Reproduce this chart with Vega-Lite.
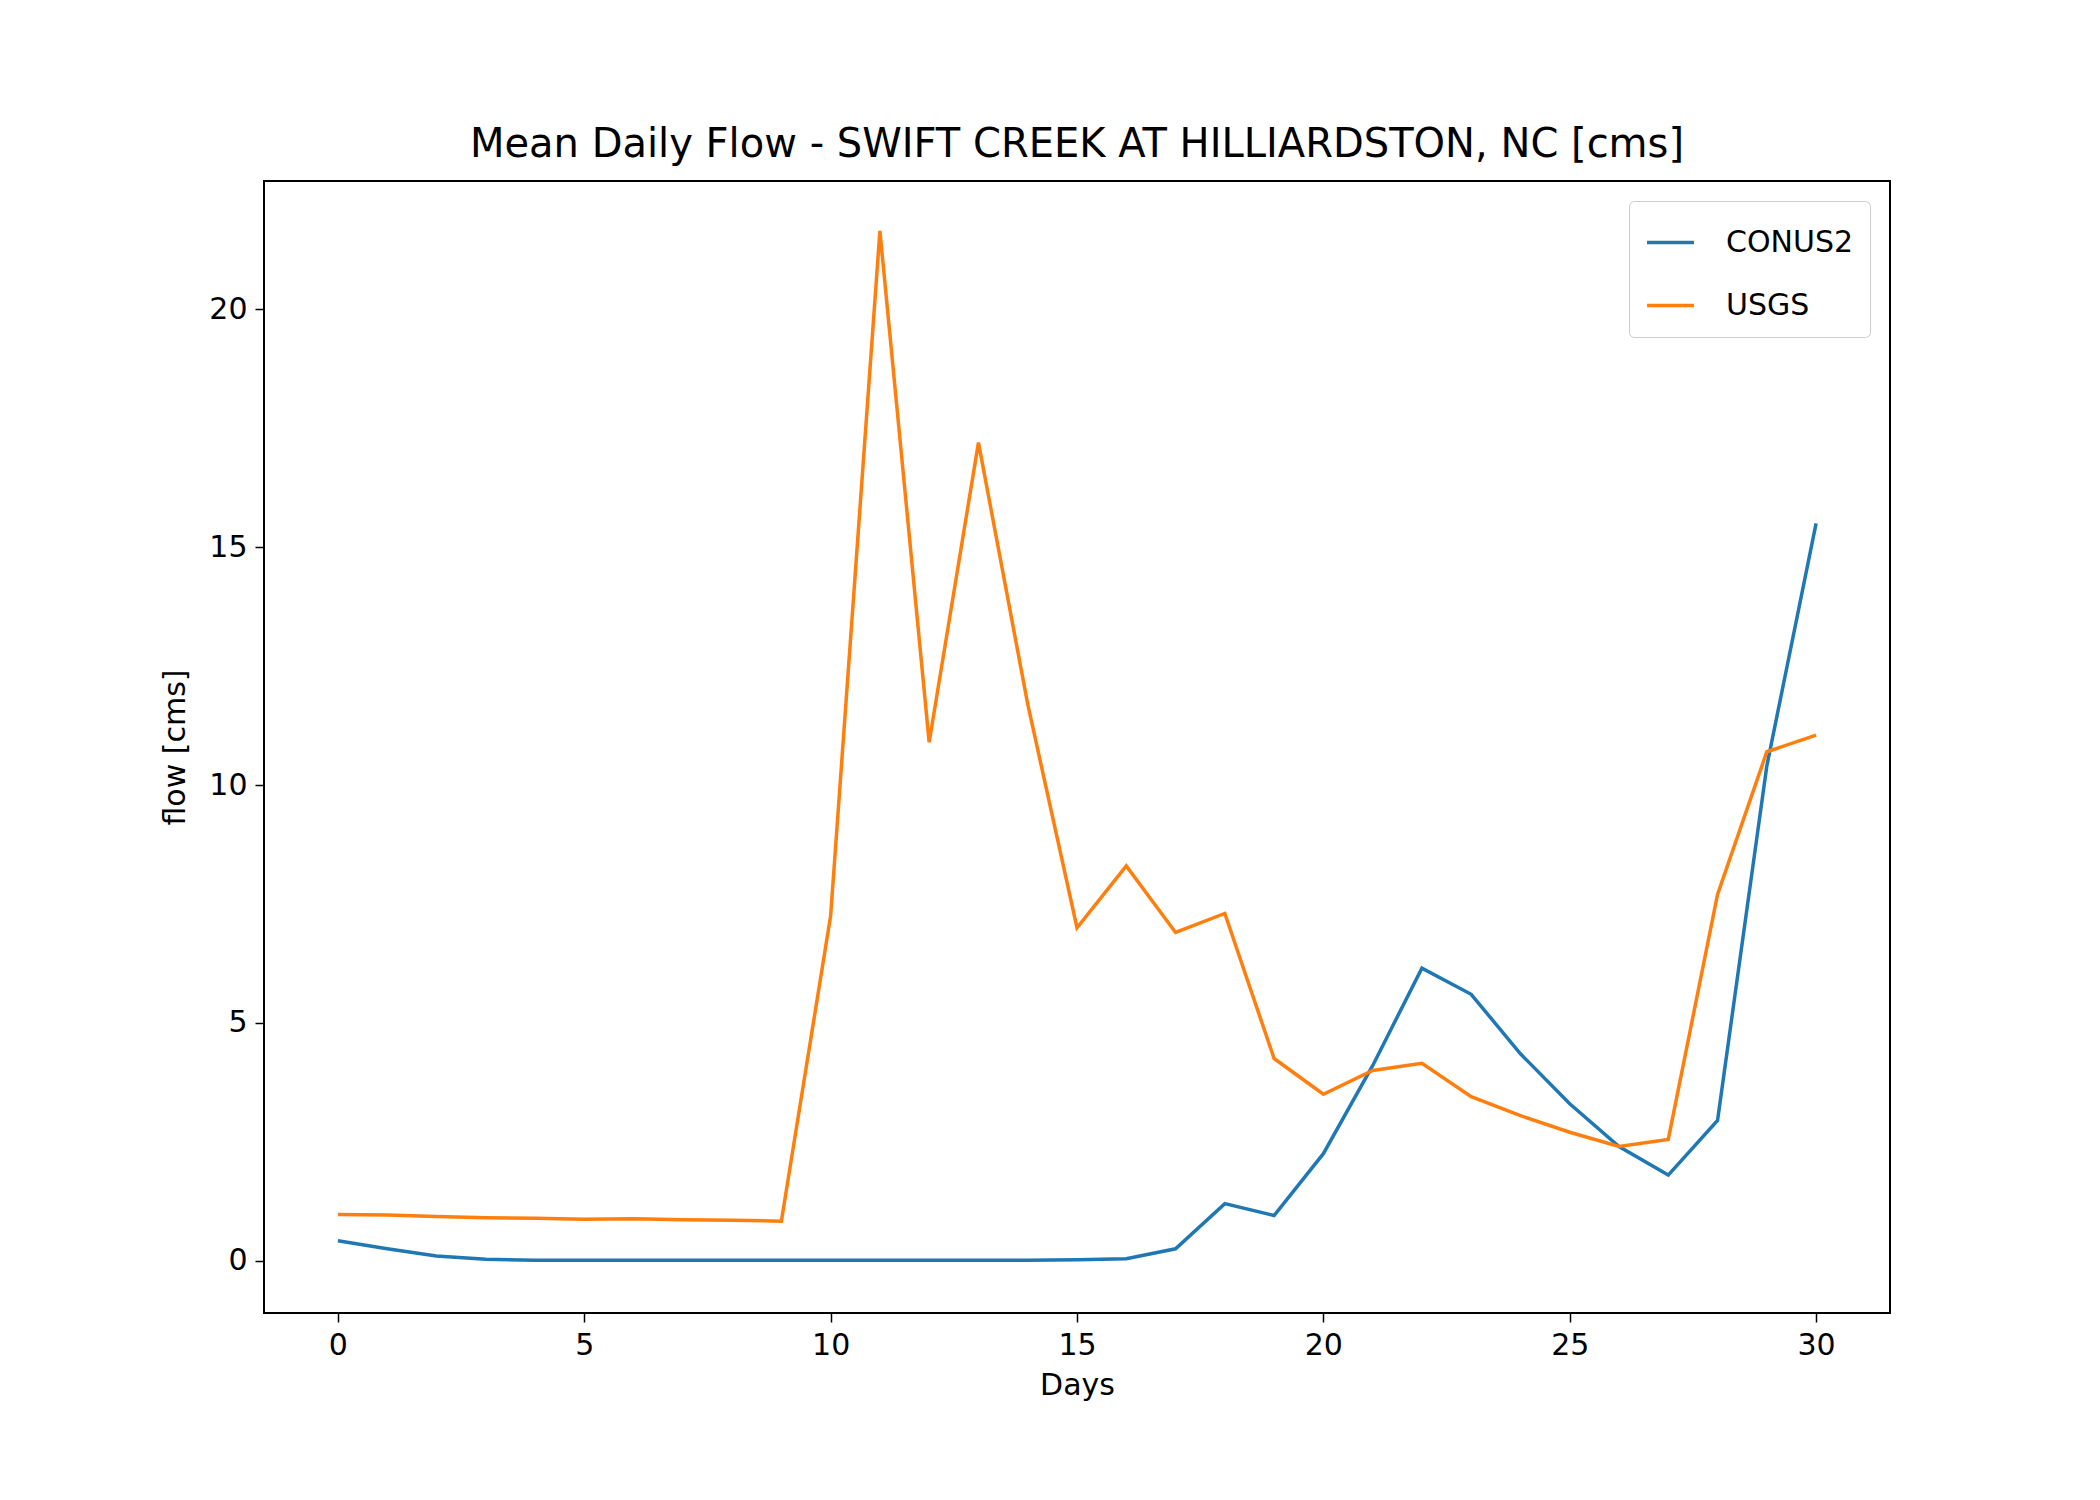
{
  "$schema": "https://vega.github.io/schema/vega-lite/v6.json",
  "autosize": "none",
  "width": 1626,
  "height": 1132,
  "padding": {"left": 264, "top": 181, "right": 210, "bottom": 187},
  "background": "white",
  "title": {"text": "Mean Daily Flow - SWIFT CREEK AT HILLIARDSTON, NC [cms]", "font": "DejaVu Sans", "fontSize": 40, "fontWeight": "normal", "offset": 16},
  "config": {
    "font": "DejaVu Sans",
    "view": {"stroke": "black", "strokeWidth": 2},
    "axis": {"grid": false, "domain": false, "tickColor": "black", "tickSize": 9, "tickWidth": 1.5, "labelFontSize": 30, "labelColor": "black", "titleFontSize": 30, "titleFontWeight": "normal", "titleColor": "black", "labelPadding": 8}
  },
  "data": {"values": [
    {"day":0,"s":"CONUS2","v":0.42},{"day":1,"s":"CONUS2","v":0.25},{"day":2,"s":"CONUS2","v":0.1},{"day":3,"s":"CONUS2","v":0.03},{"day":4,"s":"CONUS2","v":0.01},{"day":5,"s":"CONUS2","v":0.01},{"day":6,"s":"CONUS2","v":0.01},{"day":7,"s":"CONUS2","v":0.01},{"day":8,"s":"CONUS2","v":0.01},{"day":9,"s":"CONUS2","v":0.01},{"day":10,"s":"CONUS2","v":0.01},{"day":11,"s":"CONUS2","v":0.01},{"day":12,"s":"CONUS2","v":0.01},{"day":13,"s":"CONUS2","v":0.01},{"day":14,"s":"CONUS2","v":0.01},{"day":15,"s":"CONUS2","v":0.02},{"day":16,"s":"CONUS2","v":0.04},{"day":17,"s":"CONUS2","v":0.25},{"day":18,"s":"CONUS2","v":1.2},{"day":19,"s":"CONUS2","v":0.95},{"day":20,"s":"CONUS2","v":2.25},{"day":21,"s":"CONUS2","v":4.1},{"day":22,"s":"CONUS2","v":6.15},{"day":23,"s":"CONUS2","v":5.6},{"day":24,"s":"CONUS2","v":4.35},{"day":25,"s":"CONUS2","v":3.3},{"day":26,"s":"CONUS2","v":2.4},{"day":27,"s":"CONUS2","v":1.8},{"day":28,"s":"CONUS2","v":2.95},{"day":29,"s":"CONUS2","v":10.4},{"day":30,"s":"CONUS2","v":15.5},
    {"day":0,"s":"USGS","v":0.97},{"day":1,"s":"USGS","v":0.96},{"day":2,"s":"USGS","v":0.93},{"day":3,"s":"USGS","v":0.9},{"day":4,"s":"USGS","v":0.89},{"day":5,"s":"USGS","v":0.87},{"day":6,"s":"USGS","v":0.88},{"day":7,"s":"USGS","v":0.86},{"day":8,"s":"USGS","v":0.85},{"day":9,"s":"USGS","v":0.83},{"day":10,"s":"USGS","v":7.25},{"day":11,"s":"USGS","v":21.65},{"day":12,"s":"USGS","v":10.9},{"day":13,"s":"USGS","v":17.2},{"day":14,"s":"USGS","v":11.7},{"day":15,"s":"USGS","v":7.0},{"day":16,"s":"USGS","v":8.3},{"day":17,"s":"USGS","v":6.9},{"day":18,"s":"USGS","v":7.3},{"day":19,"s":"USGS","v":4.25},{"day":20,"s":"USGS","v":3.5},{"day":21,"s":"USGS","v":4.0},{"day":22,"s":"USGS","v":4.15},{"day":23,"s":"USGS","v":3.45},{"day":24,"s":"USGS","v":3.05},{"day":25,"s":"USGS","v":2.7},{"day":26,"s":"USGS","v":2.4},{"day":27,"s":"USGS","v":2.55},{"day":28,"s":"USGS","v":7.7},{"day":29,"s":"USGS","v":10.7},{"day":30,"s":"USGS","v":11.05}
  ]},
  "mark": {"type": "line", "strokeWidth": 3.5},
  "encoding": {
    "x": {"field": "day", "type": "quantitative", "title": "Days", "scale": {"domain": [-1.5, 31.5], "nice": false, "zero": false}, "axis": {"values": [0,5,10,15,20,25,30], "titlePadding": 10}},
    "y": {"field": "v", "type": "quantitative", "title": "flow [cms]", "scale": {"domain": [-1.1, 22.7], "nice": false, "zero": false}, "axis": {"values": [0,5,10,15,20], "titlePadding": 18}},
    "color": {"field": "s", "type": "nominal", "scale": {"domain": ["CONUS2","USGS"], "range": ["#1f77b4","#ff7f0e"]},
      "legend": {"title": null, "orient": "top-right", "symbolType": "stroke", "symbolSize": 2200, "symbolStrokeWidth": 3.5, "labelFontSize": 30, "labelColor": "black", "labelOffset": 30, "rowPadding": 22, "padding": 16, "strokeColor": "#cccccc", "fillColor": "white", "cornerRadius": 5, "offset": 20}}
  }
}
